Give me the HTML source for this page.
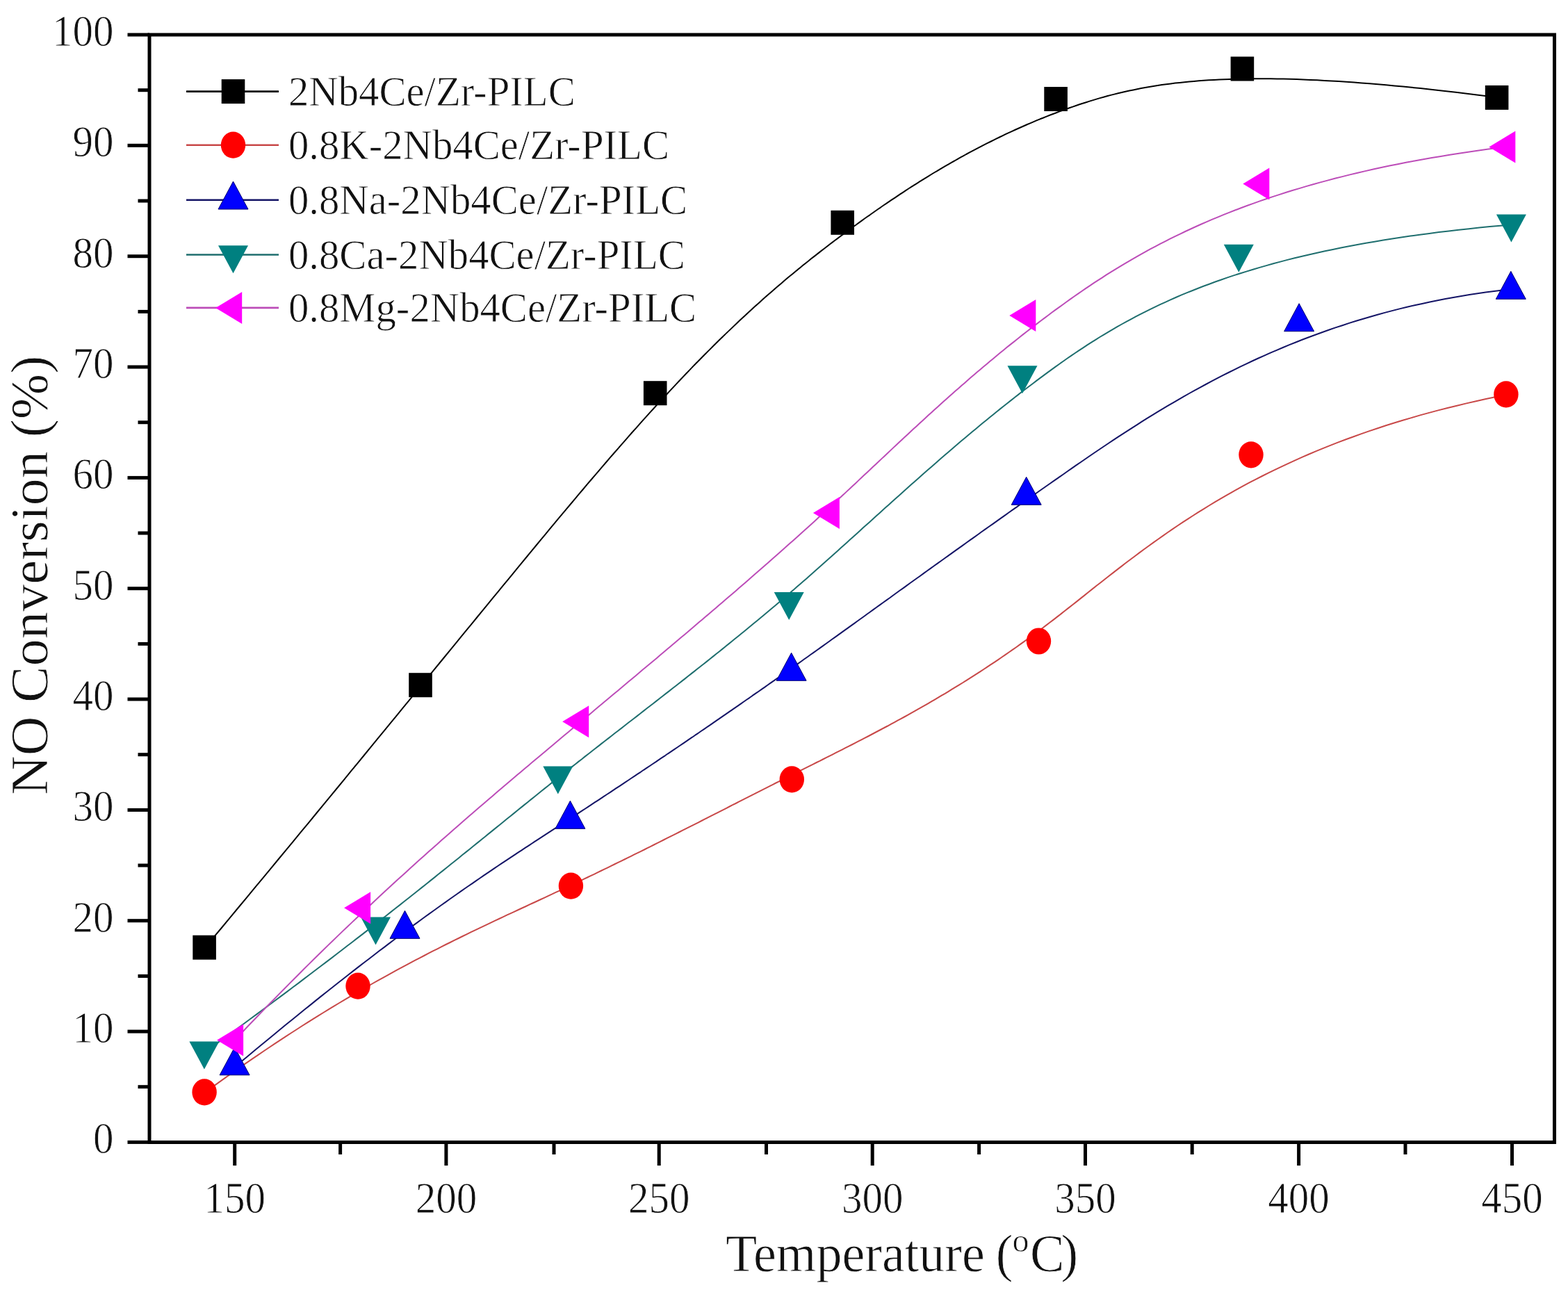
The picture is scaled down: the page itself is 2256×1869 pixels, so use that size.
<!DOCTYPE html><html><head><meta charset="utf-8"><title>NO Conversion vs Temperature</title>
<style>html,body{margin:0;padding:0;background:#fff;}svg{display:block;}text{font-family:"Liberation Serif", "Times New Roman", serif;fill:#111;stroke:#fff;stroke-width:0.8px;}</style></head><body>
<svg width="2256" height="1869" viewBox="0 0 2256 1869">
<rect width="2256" height="1869" fill="#fff"/>
<path d="M294.1 1364.6 L306.5 1349.7 L318.8 1335.0 L330.9 1320.4 L342.8 1306.0 L354.6 1291.8 L366.3 1277.7 L377.8 1263.8 L389.2 1250.1 L400.4 1236.5 L411.5 1223.1 L422.5 1209.8 L433.3 1196.7 L444.0 1183.8 L454.5 1171.0 L464.9 1158.3 L475.2 1145.8 L485.4 1133.5 L495.4 1121.3 L505.3 1109.2 L515.1 1097.3 L524.8 1085.5 L534.3 1073.9 L543.7 1062.4 L553.0 1051.1 L562.2 1039.9 L571.3 1028.8 L580.2 1017.9 L589.1 1007.1 L597.8 996.4 L606.4 985.9 L614.9 975.5 L623.3 965.2 L631.6 955.0 L639.8 945.0 L647.9 935.1 L655.9 925.4 L663.8 915.7 L671.6 906.2 L679.3 896.8 L686.9 887.5 L694.4 878.4 L701.8 869.3 L709.1 860.4 L716.4 851.6 L723.5 842.9 L730.6 834.3 L737.6 825.8 L744.5 817.4 L751.3 809.1 L758.0 801.0 L764.7 792.9 L771.2 785.0 L777.7 777.1 L784.2 769.4 L790.5 761.7 L796.8 754.2 L803.0 746.7 L809.1 739.4 L815.2 732.1 L821.2 725.0 L827.2 717.9 L833.0 710.9 L838.9 704.0 L844.6 697.2 L850.3 690.5 L856.0 683.9 L861.6 677.3 L867.1 670.9 L872.6 664.5 L878.0 658.2 L883.4 652.0 L888.8 645.8 L894.0 639.8 L899.3 633.8 L904.5 627.9 L909.6 622.0 L914.8 616.3 L919.8 610.6 L924.9 604.9 L929.9 599.4 L934.8 593.9 L939.8 588.5 L944.6 583.1 L949.5 577.8 L954.3 572.6 L959.1 567.5 L963.8 562.4 L968.5 557.4 L973.2 552.4 L977.8 547.5 L982.4 542.6 L987.0 537.8 L991.5 533.1 L996.0 528.4 L1000.5 523.8 L1005.0 519.3 L1009.4 514.8 L1013.8 510.3 L1018.2 505.9 L1022.5 501.6 L1026.8 497.3 L1031.1 493.0 L1035.4 488.8 L1039.6 484.7 L1043.8 480.6 L1048.0 476.6 L1052.2 472.6 L1056.4 468.6 L1060.5 464.7 L1064.6 460.8 L1068.7 457.0 L1072.8 453.2 L1076.8 449.5 L1080.9 445.8 L1084.9 442.1 L1088.9 438.5 L1092.9 434.9 L1096.9 431.3 L1100.8 427.8 L1104.8 424.3 L1108.7 420.9 L1112.7 417.5 L1116.6 414.1 L1120.5 410.7 L1124.4 407.4 L1128.3 404.1 L1132.1 400.8 L1136.0 397.6 L1139.9 394.4 L1143.7 391.2 L1147.6 388.1 L1151.4 384.9 L1155.2 381.8 L1159.1 378.7 L1162.9 375.7 L1166.7 372.6 L1170.5 369.6 L1174.4 366.6 L1178.2 363.6 L1182.0 360.6 L1185.8 357.7 L1189.7 354.7 L1193.5 351.8 L1197.3 348.9 L1201.1 346.0 L1205.0 343.1 L1208.8 340.3 L1212.7 337.4 L1216.5 334.5 L1220.4 331.7 L1224.2 328.9 L1228.1 326.0 L1232.0 323.2 L1235.9 320.4 L1239.7 317.6 L1243.6 314.8 L1247.5 312.0 L1251.5 309.3 L1255.4 306.5 L1259.3 303.7 L1263.2 301.0 L1267.2 298.3 L1271.1 295.5 L1275.1 292.8 L1279.1 290.1 L1283.1 287.4 L1287.1 284.8 L1291.1 282.1 L1295.1 279.4 L1299.1 276.8 L1303.1 274.2 L1307.1 271.5 L1311.2 268.9 L1315.2 266.3 L1319.3 263.8 L1323.4 261.2 L1327.5 258.6 L1331.6 256.1 L1335.7 253.6 L1339.8 251.0 L1343.9 248.5 L1348.1 246.1 L1352.2 243.6 L1356.4 241.1 L1360.6 238.7 L1364.7 236.3 L1368.9 233.8 L1373.2 231.5 L1377.4 229.1 L1381.6 226.7 L1385.9 224.4 L1390.1 222.0 L1394.4 219.7 L1398.7 217.4 L1403.0 215.1 L1407.3 212.9 L1411.6 210.6 L1415.9 208.4 L1420.3 206.2 L1424.7 204.0 L1429.0 201.8 L1433.4 199.6 L1437.8 197.5 L1442.3 195.3 L1446.7 193.2 L1451.1 191.1 L1455.6 189.1 L1460.1 187.0 L1464.6 185.0 L1469.1 183.0 L1473.6 181.0 L1478.1 179.0 L1482.7 177.1 L1487.3 175.1 L1491.8 173.2 L1496.4 171.3 L1501.1 169.5 L1505.7 167.6 L1510.3 165.8 L1515.0 164.0 L1519.7 162.2 L1524.4 160.4 L1529.1 158.7 L1533.8 157.0 L1538.6 155.3 L1543.4 153.6 L1548.1 152.0 L1553.0 150.3 L1557.8 148.7 L1562.7 147.2 L1567.6 145.6 L1572.6 144.1 L1577.5 142.6 L1582.6 141.1 L1587.7 139.7 L1592.8 138.3 L1598.0 136.9 L1603.2 135.6 L1608.5 134.3 L1613.9 133.0 L1619.3 131.7 L1624.8 130.5 L1630.4 129.4 L1636.1 128.2 L1641.8 127.1 L1647.6 126.0 L1653.5 125.0 L1659.5 124.0 L1665.5 123.1 L1671.7 122.1 L1678.0 121.3 L1684.3 120.4 L1690.8 119.6 L1697.4 118.9 L1704.1 118.2 L1710.9 117.5 L1717.8 116.9 L1724.8 116.3 L1731.9 115.8 L1739.2 115.3 L1746.6 114.9 L1754.2 114.5 L1761.8 114.2 L1769.6 113.9 L1777.6 113.6 L1785.7 113.4 L1793.9 113.3 L1802.3 113.2 L1810.8 113.2 L1819.5 113.2 L1828.4 113.3 L1837.4 113.4 L1846.6 113.6 L1856.0 113.8 L1865.5 114.1 L1875.2 114.5 L1885.1 114.9 L1895.1 115.3 L1905.4 115.9 L1915.8 116.5 L1926.4 117.1 L1937.2 117.8 L1948.2 118.6 L1959.4 119.4 L1970.8 120.3 L1982.5 121.3 L1994.3 122.3 L2006.3 123.4 L2018.6 124.6 L2031.0 125.8 L2043.7 127.1 L2056.6 128.5 L2069.8 129.9 L2083.2 131.4 L2096.8 133.0 L2110.6 134.7 L2124.7 136.4 L2139.0 138.2 L2153.6 140.0" fill="none" stroke="#000000" stroke-width="2.0" stroke-linejoin="round" stroke-linecap="round"/>
<g>
<rect x="277.3" y="1345.7" width="33.6" height="35.0" fill="#000000"/>
<rect x="588.2" y="968.2" width="33.6" height="35.0" fill="#000000"/>
<rect x="925.9" y="548.2" width="33.6" height="35.0" fill="#000000"/>
<rect x="1195.4" y="302.8" width="33.6" height="35.0" fill="#000000"/>
<rect x="1502.3" y="125.0" width="33.6" height="35.0" fill="#000000"/>
<rect x="1770.6" y="81.5" width="33.6" height="35.0" fill="#000000"/>
<rect x="2136.8" y="122.9" width="33.6" height="35.0" fill="#000000"/>
</g>
<path d="M294.1 1572.4 L302.9 1565.9 L311.7 1559.6 L320.4 1553.4 L329.0 1547.3 L337.5 1541.2 L346.0 1535.3 L354.4 1529.4 L362.8 1523.7 L371.0 1518.1 L379.2 1512.5 L387.4 1507.0 L395.4 1501.6 L403.4 1496.3 L411.4 1491.1 L419.3 1486.0 L427.1 1481.0 L434.8 1476.0 L442.5 1471.1 L450.1 1466.3 L457.7 1461.6 L465.2 1457.0 L472.7 1452.4 L480.1 1447.9 L487.4 1443.5 L494.7 1439.2 L501.9 1434.9 L509.0 1430.7 L516.2 1426.5 L523.2 1422.5 L530.2 1418.5 L537.1 1414.5 L544.0 1410.6 L550.9 1406.8 L557.7 1403.1 L564.4 1399.3 L571.1 1395.7 L577.7 1392.1 L584.3 1388.6 L590.8 1385.1 L597.3 1381.7 L603.8 1378.3 L610.2 1375.0 L616.5 1371.7 L622.8 1368.4 L629.1 1365.3 L635.3 1362.1 L641.4 1359.0 L647.6 1356.0 L653.7 1352.9 L659.7 1350.0 L665.7 1347.0 L671.7 1344.1 L677.6 1341.2 L683.5 1338.4 L689.3 1335.6 L695.1 1332.8 L700.9 1330.1 L706.6 1327.3 L712.3 1324.7 L718.0 1322.0 L723.6 1319.4 L729.2 1316.7 L734.8 1314.1 L740.3 1311.6 L745.8 1309.0 L751.2 1306.5 L756.7 1304.0 L762.1 1301.4 L767.4 1299.0 L772.8 1296.5 L778.1 1294.0 L783.4 1291.6 L788.6 1289.1 L793.9 1286.7 L799.1 1284.2 L804.3 1281.8 L809.4 1279.4 L814.6 1276.9 L819.7 1274.5 L824.7 1272.1 L829.8 1269.7 L834.8 1267.3 L839.9 1264.9 L844.9 1262.5 L849.8 1260.1 L854.8 1257.8 L859.7 1255.4 L864.6 1253.0 L869.5 1250.6 L874.4 1248.3 L879.3 1245.9 L884.1 1243.5 L888.9 1241.2 L893.7 1238.8 L898.5 1236.5 L903.3 1234.1 L908.0 1231.8 L912.7 1229.4 L917.5 1227.1 L922.2 1224.8 L926.9 1222.5 L931.5 1220.1 L936.2 1217.8 L940.8 1215.5 L945.5 1213.2 L950.1 1210.9 L954.7 1208.5 L959.3 1206.2 L963.9 1203.9 L968.5 1201.6 L973.0 1199.3 L977.6 1197.0 L982.2 1194.7 L986.7 1192.4 L991.2 1190.1 L995.7 1187.9 L1000.3 1185.6 L1004.8 1183.3 L1009.3 1181.0 L1013.8 1178.7 L1018.3 1176.4 L1022.7 1174.2 L1027.2 1171.9 L1031.7 1169.6 L1036.2 1167.3 L1040.6 1165.1 L1045.1 1162.8 L1049.5 1160.5 L1054.0 1158.2 L1058.5 1156.0 L1062.9 1153.7 L1067.4 1151.4 L1071.8 1149.2 L1076.3 1146.9 L1080.7 1144.6 L1085.2 1142.4 L1089.6 1140.1 L1094.1 1137.8 L1098.5 1135.6 L1103.0 1133.3 L1107.4 1131.1 L1111.9 1128.8 L1116.4 1126.5 L1120.8 1124.3 L1125.3 1122.0 L1129.8 1119.7 L1134.3 1117.5 L1138.8 1115.2 L1143.3 1112.9 L1147.8 1110.7 L1152.3 1108.4 L1156.8 1106.1 L1161.3 1103.9 L1165.8 1101.6 L1170.4 1099.3 L1174.9 1097.0 L1179.5 1094.8 L1184.0 1092.5 L1188.6 1090.2 L1193.2 1087.9 L1197.8 1085.6 L1202.4 1083.2 L1207.0 1080.9 L1211.6 1078.6 L1216.2 1076.2 L1220.8 1073.9 L1225.5 1071.5 L1230.1 1069.1 L1234.8 1066.7 L1239.4 1064.3 L1244.1 1061.9 L1248.8 1059.5 L1253.5 1057.0 L1258.2 1054.5 L1262.9 1052.0 L1267.7 1049.5 L1272.4 1047.0 L1277.2 1044.5 L1281.9 1041.9 L1286.7 1039.3 L1291.5 1036.7 L1296.3 1034.1 L1301.1 1031.5 L1305.9 1028.8 L1310.7 1026.1 L1315.6 1023.4 L1320.4 1020.7 L1325.3 1017.9 L1330.2 1015.1 L1335.1 1012.3 L1340.0 1009.4 L1344.9 1006.6 L1349.8 1003.7 L1354.8 1000.7 L1359.8 997.8 L1364.7 994.8 L1369.7 991.7 L1374.7 988.7 L1379.7 985.6 L1384.8 982.5 L1389.8 979.3 L1394.9 976.1 L1400.0 972.9 L1405.1 969.6 L1410.2 966.3 L1415.3 963.0 L1420.4 959.6 L1425.6 956.2 L1430.7 952.8 L1435.9 949.3 L1441.1 945.7 L1446.4 942.1 L1451.6 938.5 L1456.8 934.9 L1462.1 931.2 L1467.4 927.4 L1472.7 923.6 L1478.0 919.8 L1483.4 915.9 L1488.7 912.0 L1494.1 908.0 L1499.5 904.0 L1504.9 899.9 L1510.3 895.8 L1515.8 891.6 L1521.2 887.4 L1526.7 883.1 L1532.2 878.8 L1537.8 874.4 L1543.4 870.0 L1549.0 865.6 L1554.6 861.1 L1560.3 856.6 L1566.0 852.0 L1571.8 847.4 L1577.6 842.8 L1583.5 838.2 L1589.5 833.5 L1595.5 828.8 L1601.5 824.1 L1607.6 819.4 L1613.8 814.6 L1620.0 809.8 L1626.4 805.0 L1632.8 800.2 L1639.2 795.4 L1645.8 790.5 L1652.4 785.7 L1659.1 780.9 L1666.0 776.0 L1672.9 771.1 L1679.8 766.3 L1686.9 761.4 L1694.1 756.5 L1701.4 751.7 L1708.8 746.8 L1716.3 742.0 L1723.9 737.1 L1731.7 732.3 L1739.5 727.5 L1747.5 722.7 L1755.6 717.9 L1763.8 713.1 L1772.2 708.4 L1780.6 703.6 L1789.2 698.9 L1798.0 694.2 L1806.9 689.6 L1815.9 685.0 L1825.1 680.4 L1834.4 675.8 L1843.9 671.3 L1853.5 666.8 L1863.3 662.3 L1873.2 657.9 L1883.3 653.5 L1893.6 649.2 L1904.0 644.9 L1914.6 640.6 L1925.4 636.4 L1936.4 632.3 L1947.5 628.2 L1958.8 624.1 L1970.3 620.1 L1982.0 616.2 L1993.9 612.3 L2005.9 608.5 L2018.2 604.8 L2030.7 601.1 L2043.3 597.4 L2056.2 593.9 L2069.3 590.4 L2082.6 587.0 L2096.1 583.7 L2109.8 580.4 L2123.7 577.2 L2137.9 574.1 L2152.3 571.1 L2166.9 568.1" fill="none" stroke="#c84848" stroke-width="2.0" stroke-linejoin="round" stroke-linecap="round"/>
<g>
<ellipse cx="294.1" cy="1571.4" rx="17.7" ry="19.1" fill="#ff0000"/>
<ellipse cx="515.0" cy="1418.7" rx="17.7" ry="19.1" fill="#ff0000"/>
<ellipse cx="821.4" cy="1274.7" rx="17.7" ry="19.1" fill="#ff0000"/>
<ellipse cx="1139.3" cy="1121.4" rx="17.7" ry="19.1" fill="#ff0000"/>
<ellipse cx="1494.5" cy="922.5" rx="17.7" ry="19.1" fill="#ff0000"/>
<ellipse cx="1800.0" cy="654.3" rx="17.7" ry="19.1" fill="#ff0000"/>
<ellipse cx="2166.9" cy="567.4" rx="17.7" ry="19.1" fill="#ff0000"/>
</g>
<path d="M337.6 1535.4 L347.4 1527.2 L357.0 1519.2 L366.5 1511.3 L375.9 1503.5 L385.1 1495.9 L394.2 1488.4 L403.2 1481.0 L412.0 1473.8 L420.8 1466.7 L429.4 1459.7 L437.9 1452.8 L446.3 1446.1 L454.6 1439.4 L462.7 1432.9 L470.8 1426.5 L478.7 1420.2 L486.6 1414.0 L494.3 1408.0 L501.9 1402.0 L509.4 1396.1 L516.8 1390.4 L524.1 1384.7 L531.4 1379.2 L538.5 1373.7 L545.5 1368.3 L552.5 1363.1 L559.3 1357.9 L566.1 1352.8 L572.7 1347.8 L579.3 1342.9 L585.8 1338.0 L592.2 1333.3 L598.6 1328.6 L604.9 1324.0 L611.0 1319.5 L617.1 1315.1 L623.2 1310.7 L629.1 1306.5 L635.0 1302.2 L640.9 1298.1 L646.6 1294.0 L652.3 1290.0 L658.0 1286.0 L663.5 1282.1 L669.0 1278.3 L674.5 1274.5 L679.9 1270.8 L685.2 1267.1 L690.5 1263.5 L695.7 1259.9 L700.9 1256.4 L706.1 1252.9 L711.2 1249.4 L716.2 1246.0 L721.2 1242.7 L726.2 1239.4 L731.1 1236.1 L736.0 1232.8 L740.9 1229.6 L745.7 1226.4 L750.5 1223.3 L755.2 1220.2 L760.0 1217.1 L764.7 1214.0 L769.3 1210.9 L774.0 1207.9 L778.6 1204.9 L783.2 1201.9 L787.8 1198.9 L792.4 1195.9 L797.0 1192.9 L801.5 1190.0 L806.0 1187.0 L810.6 1184.1 L815.1 1181.1 L819.6 1178.2 L824.1 1175.3 L828.6 1172.3 L833.1 1169.4 L837.6 1166.4 L842.1 1163.5 L846.5 1160.6 L851.0 1157.6 L855.4 1154.7 L859.9 1151.8 L864.4 1148.8 L868.8 1145.9 L873.2 1143.0 L877.7 1140.1 L882.1 1137.1 L886.5 1134.2 L890.9 1131.3 L895.4 1128.3 L899.8 1125.4 L904.2 1122.5 L908.6 1119.5 L913.0 1116.6 L917.4 1113.7 L921.8 1110.8 L926.1 1107.8 L930.5 1104.9 L934.9 1102.0 L939.3 1099.0 L943.7 1096.1 L948.0 1093.1 L952.4 1090.2 L956.8 1087.3 L961.1 1084.3 L965.5 1081.4 L969.9 1078.4 L974.2 1075.5 L978.6 1072.5 L982.9 1069.6 L987.3 1066.6 L991.6 1063.6 L996.0 1060.7 L1000.3 1057.7 L1004.7 1054.8 L1009.0 1051.8 L1013.4 1048.8 L1017.7 1045.8 L1022.1 1042.9 L1026.4 1039.9 L1030.7 1036.9 L1035.1 1033.9 L1039.4 1030.9 L1043.8 1027.9 L1048.1 1024.9 L1052.5 1021.9 L1056.8 1018.9 L1061.2 1015.9 L1065.5 1012.9 L1069.9 1009.8 L1074.2 1006.8 L1078.6 1003.8 L1082.9 1000.7 L1087.3 997.7 L1091.6 994.7 L1096.0 991.6 L1100.4 988.6 L1104.7 985.5 L1109.1 982.4 L1113.5 979.4 L1117.8 976.3 L1122.2 973.2 L1126.6 970.1 L1131.0 967.0 L1135.3 963.9 L1139.7 960.8 L1144.1 957.7 L1148.5 954.6 L1152.9 951.5 L1157.3 948.3 L1161.7 945.2 L1166.1 942.0 L1170.6 938.9 L1175.0 935.7 L1179.4 932.6 L1183.9 929.4 L1188.3 926.2 L1192.8 923.0 L1197.2 919.8 L1201.7 916.6 L1206.2 913.4 L1210.7 910.1 L1215.2 906.9 L1219.8 903.6 L1224.3 900.4 L1228.9 897.1 L1233.5 893.8 L1238.0 890.5 L1242.6 887.2 L1247.3 883.8 L1251.9 880.5 L1256.5 877.1 L1261.2 873.8 L1265.9 870.4 L1270.6 867.0 L1275.3 863.6 L1280.1 860.2 L1284.8 856.7 L1289.6 853.3 L1294.4 849.8 L1299.3 846.4 L1304.1 842.9 L1309.0 839.3 L1313.9 835.8 L1318.8 832.3 L1323.8 828.7 L1328.7 825.1 L1333.7 821.5 L1338.8 817.9 L1343.8 814.3 L1348.9 810.6 L1354.0 807.0 L1359.2 803.3 L1364.3 799.6 L1369.5 795.9 L1374.7 792.1 L1380.0 788.4 L1385.3 784.6 L1390.6 780.8 L1396.0 776.9 L1401.4 773.1 L1406.8 769.2 L1412.2 765.3 L1417.7 761.4 L1423.2 757.5 L1428.8 753.6 L1434.4 749.6 L1440.0 745.6 L1445.7 741.6 L1451.4 737.5 L1457.2 733.4 L1463.0 729.4 L1468.8 725.2 L1474.7 721.1 L1480.6 716.9 L1486.5 712.7 L1492.5 708.5 L1498.5 704.3 L1504.6 700.0 L1510.7 695.7 L1516.9 691.4 L1523.1 687.1 L1529.4 682.7 L1535.7 678.3 L1542.0 673.9 L1548.4 669.4 L1554.9 665.0 L1561.4 660.5 L1567.9 656.0 L1574.5 651.5 L1581.2 647.0 L1587.9 642.5 L1594.6 638.0 L1601.5 633.4 L1608.3 628.9 L1615.3 624.4 L1622.3 619.8 L1629.3 615.3 L1636.4 610.8 L1643.6 606.2 L1650.8 601.7 L1658.2 597.2 L1665.5 592.7 L1673.0 588.2 L1680.5 583.7 L1688.0 579.3 L1695.7 574.8 L1703.4 570.4 L1711.1 566.0 L1719.0 561.6 L1726.9 557.3 L1734.9 553.0 L1743.0 548.7 L1751.1 544.4 L1759.3 540.2 L1767.6 536.0 L1776.0 531.8 L1784.5 527.7 L1793.0 523.6 L1801.6 519.5 L1810.3 515.5 L1819.1 511.6 L1827.9 507.7 L1836.9 503.8 L1845.9 500.0 L1855.1 496.2 L1864.3 492.5 L1873.6 488.8 L1882.9 485.2 L1892.4 481.7 L1902.0 478.2 L1911.7 474.8 L1921.4 471.4 L1931.3 468.2 L1941.2 464.9 L1951.2 461.8 L1961.4 458.7 L1971.6 455.7 L1982.0 452.8 L1992.4 449.9 L2002.9 447.1 L2013.6 444.4 L2024.3 441.8 L2035.2 439.3 L2046.1 436.9 L2057.2 434.5 L2068.3 432.2 L2079.6 430.1 L2091.0 428.0 L2102.5 426.0 L2114.1 424.1 L2125.8 422.3 L2137.6 420.6 L2149.6 419.0 L2161.6 417.5 L2173.8 416.2" fill="none" stroke="#141466" stroke-width="2.0" stroke-linejoin="round" stroke-linecap="round"/>
<g>
<polygon points="337.6,1506.8 359.1,1546.8 316.1,1546.8" fill="#0000ff" stroke="#000070" stroke-width="1"/>
<polygon points="582.5,1310.3 604.0,1350.3 561.0,1350.3" fill="#0000ff" stroke="#000070" stroke-width="1"/>
<polygon points="820.4,1152.3 841.9,1192.3 798.9,1192.3" fill="#0000ff" stroke="#000070" stroke-width="1"/>
<polygon points="1138.6,939.3 1160.1,979.3 1117.1,979.3" fill="#0000ff" stroke="#000070" stroke-width="1"/>
<polygon points="1476.7,686.3 1498.2,726.3 1455.2,726.3" fill="#0000ff" stroke="#000070" stroke-width="1"/>
<polygon points="1869.1,436.7 1890.6,476.7 1847.6,476.7" fill="#0000ff" stroke="#000070" stroke-width="1"/>
<polygon points="2173.8,390.3 2195.3,430.3 2152.3,430.3" fill="#0000ff" stroke="#000070" stroke-width="1"/>
</g>
<path d="M293.9 1514.5 L303.7 1507.4 L313.4 1500.3 L323.0 1493.3 L332.5 1486.4 L341.9 1479.5 L351.1 1472.8 L360.2 1466.0 L369.2 1459.4 L378.1 1452.8 L386.9 1446.3 L395.6 1439.8 L404.2 1433.4 L412.6 1427.1 L421.0 1420.8 L429.3 1414.6 L437.4 1408.4 L445.5 1402.3 L453.4 1396.3 L461.3 1390.3 L469.1 1384.4 L476.7 1378.6 L484.3 1372.8 L491.8 1367.0 L499.2 1361.3 L506.5 1355.7 L513.7 1350.1 L520.9 1344.6 L528.0 1339.1 L534.9 1333.7 L541.8 1328.3 L548.6 1322.9 L555.4 1317.7 L562.1 1312.4 L568.6 1307.2 L575.2 1302.1 L581.6 1297.0 L588.0 1292.0 L594.3 1287.0 L600.6 1282.0 L606.7 1277.1 L612.9 1272.2 L618.9 1267.4 L624.9 1262.6 L630.8 1257.8 L636.7 1253.1 L642.5 1248.5 L648.3 1243.8 L654.0 1239.2 L659.7 1234.7 L665.3 1230.1 L670.9 1225.6 L676.4 1221.2 L681.8 1216.8 L687.3 1212.4 L692.7 1208.0 L698.0 1203.7 L703.3 1199.4 L708.6 1195.1 L713.8 1190.9 L719.0 1186.7 L724.2 1182.5 L729.3 1178.3 L734.4 1174.2 L739.5 1170.1 L744.5 1166.0 L749.6 1161.9 L754.6 1157.9 L759.5 1153.9 L764.5 1149.9 L769.4 1145.9 L774.3 1142.0 L779.2 1138.0 L784.1 1134.1 L789.0 1130.2 L793.8 1126.4 L798.7 1122.5 L803.5 1118.7 L808.3 1114.8 L813.2 1111.0 L818.0 1107.2 L822.8 1103.4 L827.5 1099.7 L832.3 1095.9 L837.1 1092.2 L841.8 1088.4 L846.6 1084.7 L851.3 1081.0 L856.1 1077.3 L860.8 1073.6 L865.5 1069.9 L870.2 1066.3 L874.9 1062.6 L879.6 1059.0 L884.2 1055.3 L888.9 1051.7 L893.6 1048.1 L898.2 1044.5 L902.9 1040.8 L907.5 1037.2 L912.1 1033.7 L916.8 1030.1 L921.4 1026.5 L926.0 1022.9 L930.6 1019.3 L935.2 1015.7 L939.8 1012.2 L944.4 1008.6 L949.0 1005.0 L953.5 1001.5 L958.1 997.9 L962.7 994.4 L967.2 990.8 L971.8 987.2 L976.3 983.7 L980.9 980.1 L985.4 976.6 L989.9 973.0 L994.5 969.4 L999.0 965.9 L1003.5 962.3 L1008.0 958.7 L1012.5 955.2 L1017.1 951.6 L1021.6 948.0 L1026.1 944.4 L1030.6 940.8 L1035.1 937.2 L1039.6 933.6 L1044.0 930.0 L1048.5 926.4 L1053.0 922.8 L1057.5 919.1 L1062.0 915.5 L1066.5 911.8 L1070.9 908.2 L1075.4 904.5 L1079.9 900.8 L1084.4 897.1 L1088.8 893.4 L1093.3 889.7 L1097.8 886.0 L1102.3 882.2 L1106.7 878.5 L1111.2 874.7 L1115.7 871.0 L1120.1 867.2 L1124.6 863.4 L1129.1 859.5 L1133.5 855.7 L1138.0 851.8 L1142.5 848.0 L1146.9 844.1 L1151.4 840.2 L1155.9 836.3 L1160.4 832.4 L1164.8 828.4 L1169.3 824.5 L1173.8 820.5 L1178.3 816.5 L1182.8 812.5 L1187.3 808.5 L1191.8 804.5 L1196.3 800.5 L1200.8 796.4 L1205.3 792.4 L1209.8 788.3 L1214.4 784.2 L1218.9 780.2 L1223.4 776.1 L1228.0 772.0 L1232.5 767.9 L1237.1 763.8 L1241.6 759.6 L1246.2 755.5 L1250.8 751.4 L1255.4 747.2 L1260.0 743.1 L1264.6 738.9 L1269.2 734.7 L1273.8 730.6 L1278.5 726.4 L1283.1 722.2 L1287.8 718.0 L1292.4 713.9 L1297.1 709.7 L1301.8 705.5 L1306.5 701.3 L1311.2 697.1 L1315.9 692.9 L1320.7 688.7 L1325.4 684.5 L1330.2 680.3 L1335.0 676.1 L1339.8 671.9 L1344.6 667.7 L1349.4 663.5 L1354.2 659.3 L1359.1 655.1 L1363.9 650.9 L1368.8 646.7 L1373.7 642.5 L1378.6 638.3 L1383.6 634.1 L1388.5 630.0 L1393.5 625.8 L1398.5 621.6 L1403.5 617.4 L1408.5 613.3 L1413.5 609.1 L1418.6 605.0 L1423.7 600.8 L1428.7 596.7 L1433.9 592.5 L1439.0 588.4 L1444.2 584.3 L1449.3 580.2 L1454.5 576.1 L1459.7 572.0 L1465.0 567.9 L1470.2 563.8 L1475.5 559.8 L1480.8 555.7 L1486.2 551.7 L1491.5 547.6 L1496.9 543.6 L1502.3 539.6 L1507.7 535.6 L1513.2 531.6 L1518.7 527.6 L1524.2 523.7 L1529.8 519.7 L1535.4 515.8 L1541.1 511.9 L1546.8 508.0 L1552.6 504.1 L1558.4 500.3 L1564.3 496.4 L1570.2 492.6 L1576.3 488.8 L1582.3 485.0 L1588.5 481.3 L1594.7 477.6 L1601.1 473.9 L1607.4 470.2 L1613.9 466.5 L1620.5 462.9 L1627.1 459.3 L1633.9 455.7 L1640.7 452.1 L1647.7 448.6 L1654.7 445.1 L1661.9 441.6 L1669.1 438.2 L1676.5 434.8 L1684.0 431.4 L1691.6 428.0 L1699.3 424.7 L1707.2 421.4 L1715.2 418.2 L1723.3 415.0 L1731.5 411.8 L1739.9 408.7 L1748.4 405.5 L1757.1 402.5 L1765.9 399.4 L1774.9 396.4 L1784.0 393.5 L1793.3 390.6 L1802.7 387.7 L1812.3 384.9 L1822.0 382.1 L1832.0 379.3 L1842.0 376.6 L1852.3 373.9 L1862.7 371.3 L1873.4 368.7 L1884.2 366.2 L1895.2 363.7 L1906.3 361.3 L1917.7 358.9 L1929.3 356.5 L1941.0 354.2 L1953.0 352.0 L1965.2 349.8 L1977.6 347.7 L1990.2 345.6 L2003.0 343.5 L2016.0 341.5 L2029.2 339.6 L2042.7 337.7 L2056.4 335.9 L2070.3 334.1 L2084.4 332.4 L2098.8 330.8 L2113.5 329.2 L2128.3 327.6 L2143.4 326.1 L2158.8 324.7 L2174.4 323.3" fill="none" stroke="#1e6e6e" stroke-width="2.0" stroke-linejoin="round" stroke-linecap="round"/>
<g>
<polygon points="293.9,1538.4 315.4,1498.4 272.4,1498.4" fill="#008080"/>
<polygon points="540.5,1359.4 562.0,1319.4 519.0,1319.4" fill="#008080"/>
<polygon points="802.8,1142.6 824.3,1102.6 781.3,1102.6" fill="#008080"/>
<polygon points="1135.2,892.1 1156.7,852.1 1113.7,852.1" fill="#008080"/>
<polygon points="1471.0,566.3 1492.5,526.3 1449.5,526.3" fill="#008080"/>
<polygon points="1782.3,391.8 1803.8,351.8 1760.8,351.8" fill="#008080"/>
<polygon points="2174.4,348.5 2195.9,308.5 2152.9,308.5" fill="#008080"/>
</g>
<path d="M337.4 1496.9 L344.7 1489.2 L352.0 1481.5 L359.3 1473.8 L366.6 1466.3 L373.8 1458.8 L381.0 1451.3 L388.1 1444.0 L395.3 1436.7 L402.4 1429.4 L409.5 1422.2 L416.5 1415.1 L423.6 1408.0 L430.6 1401.0 L437.5 1394.0 L444.5 1387.1 L451.4 1380.3 L458.3 1373.5 L465.2 1366.8 L472.0 1360.1 L478.9 1353.5 L485.7 1346.9 L492.4 1340.4 L499.2 1334.0 L505.9 1327.6 L512.6 1321.2 L519.3 1314.9 L525.9 1308.6 L532.5 1302.4 L539.1 1296.3 L545.7 1290.1 L552.2 1284.1 L558.7 1278.0 L565.2 1272.1 L571.7 1266.1 L578.2 1260.3 L584.6 1254.4 L591.0 1248.6 L597.4 1242.8 L603.7 1237.1 L610.0 1231.5 L616.3 1225.8 L622.6 1220.2 L628.9 1214.7 L635.1 1209.1 L641.3 1203.7 L647.5 1198.2 L653.7 1192.8 L659.8 1187.4 L666.0 1182.1 L672.0 1176.8 L678.1 1171.5 L684.2 1166.3 L690.2 1161.1 L696.2 1155.9 L702.2 1150.8 L708.2 1145.7 L714.1 1140.6 L720.0 1135.5 L725.9 1130.5 L731.8 1125.5 L737.7 1120.5 L743.5 1115.6 L749.3 1110.7 L755.1 1105.8 L760.9 1100.9 L766.6 1096.1 L772.4 1091.3 L778.1 1086.5 L783.8 1081.7 L789.4 1076.9 L795.1 1072.2 L800.7 1067.5 L806.3 1062.8 L811.9 1058.1 L817.5 1053.5 L823.0 1048.8 L828.6 1044.2 L834.1 1039.6 L839.6 1035.0 L845.0 1030.4 L850.5 1025.9 L855.9 1021.3 L861.3 1016.8 L866.7 1012.3 L872.1 1007.8 L877.5 1003.3 L882.8 998.8 L888.1 994.4 L893.4 990.0 L898.7 985.5 L904.0 981.1 L909.2 976.7 L914.4 972.4 L919.6 968.0 L924.8 963.6 L930.0 959.3 L935.1 955.0 L940.3 950.7 L945.4 946.4 L950.5 942.1 L955.6 937.8 L960.6 933.5 L965.7 929.3 L970.7 925.0 L975.7 920.8 L980.7 916.6 L985.7 912.4 L990.6 908.2 L995.6 904.0 L1000.5 899.8 L1005.4 895.6 L1010.3 891.5 L1015.2 887.3 L1020.0 883.2 L1024.9 879.1 L1029.7 874.9 L1034.5 870.8 L1039.3 866.7 L1044.1 862.6 L1048.8 858.5 L1053.6 854.5 L1058.3 850.4 L1063.0 846.3 L1067.7 842.3 L1072.4 838.2 L1077.0 834.2 L1081.7 830.1 L1086.3 826.1 L1090.9 822.1 L1095.5 818.1 L1100.1 814.1 L1104.7 810.1 L1109.2 806.0 L1113.7 802.1 L1118.3 798.1 L1122.8 794.1 L1127.3 790.1 L1131.7 786.1 L1136.2 782.1 L1140.6 778.2 L1145.1 774.2 L1149.5 770.2 L1153.9 766.3 L1158.3 762.3 L1162.6 758.4 L1167.0 754.4 L1171.4 750.5 L1175.7 746.5 L1180.0 742.6 L1184.3 738.6 L1188.6 734.7 L1192.9 730.8 L1197.1 726.8 L1201.4 722.9 L1205.6 718.9 L1209.8 715.0 L1214.1 711.1 L1218.3 707.1 L1222.5 703.2 L1226.7 699.3 L1230.9 695.4 L1235.1 691.4 L1239.2 687.5 L1243.4 683.6 L1247.6 679.7 L1251.8 675.8 L1255.9 671.8 L1260.1 667.9 L1264.3 664.0 L1268.4 660.1 L1272.6 656.2 L1276.8 652.3 L1280.9 648.4 L1285.1 644.4 L1289.3 640.5 L1293.5 636.6 L1297.6 632.7 L1301.8 628.8 L1306.0 624.9 L1310.2 621.0 L1314.4 617.1 L1318.7 613.2 L1322.9 609.3 L1327.1 605.4 L1331.4 601.5 L1335.6 597.6 L1339.9 593.7 L1344.2 589.8 L1348.5 585.9 L1352.8 582.0 L1357.2 578.1 L1361.5 574.2 L1365.9 570.3 L1370.2 566.4 L1374.6 562.5 L1379.1 558.7 L1383.5 554.8 L1388.0 550.9 L1392.4 547.0 L1396.9 543.1 L1401.4 539.2 L1406.0 535.3 L1410.6 531.4 L1415.2 527.5 L1419.8 523.7 L1424.4 519.8 L1429.1 515.9 L1433.8 512.0 L1438.5 508.1 L1443.3 504.2 L1448.0 500.3 L1452.9 496.4 L1457.7 492.6 L1462.6 488.7 L1467.5 484.8 L1472.4 480.9 L1477.4 477.0 L1482.4 473.1 L1487.4 469.3 L1492.5 465.4 L1497.6 461.5 L1502.8 457.6 L1508.0 453.7 L1513.2 449.8 L1518.5 445.9 L1523.8 442.1 L1529.2 438.2 L1534.6 434.3 L1540.0 430.4 L1545.5 426.5 L1551.1 422.7 L1556.7 418.8 L1562.3 414.9 L1568.0 411.1 L1573.8 407.2 L1579.7 403.4 L1585.6 399.6 L1591.5 395.7 L1597.6 391.9 L1603.7 388.1 L1609.9 384.4 L1616.1 380.6 L1622.5 376.8 L1628.9 373.1 L1635.4 369.3 L1642.0 365.6 L1648.7 361.9 L1655.4 358.2 L1662.3 354.6 L1669.2 350.9 L1676.3 347.3 L1683.4 343.7 L1690.6 340.1 L1698.0 336.6 L1705.4 333.0 L1713.0 329.5 L1720.6 326.0 L1728.4 322.5 L1736.2 319.1 L1744.2 315.7 L1752.3 312.3 L1760.6 308.9 L1768.9 305.6 L1777.4 302.3 L1786.0 299.0 L1794.7 295.8 L1803.5 292.6 L1812.5 289.4 L1821.6 286.3 L1830.9 283.1 L1840.3 280.1 L1849.8 277.0 L1859.4 274.0 L1869.3 271.1 L1879.2 268.1 L1889.3 265.2 L1899.6 262.4 L1910.0 259.6 L1920.5 256.8 L1931.3 254.1 L1942.1 251.4 L1953.2 248.7 L1964.4 246.1 L1975.8 243.6 L1987.3 241.1 L1999.0 238.6 L2010.9 236.2 L2022.9 233.8 L2035.2 231.5 L2047.6 229.3 L2060.1 227.0 L2072.9 224.9 L2085.9 222.7 L2099.0 220.7 L2112.3 218.7 L2125.9 216.7 L2139.6 214.8 L2153.5 213.0 L2167.6 211.2" fill="none" stroke="#bc4cb8" stroke-width="2.0" stroke-linejoin="round" stroke-linecap="round"/>
<g>
<polygon points="312.1,1496.5 350.1,1473.5 350.1,1519.5" fill="#ff00ff"/>
<polygon points="495.1,1306.3 533.1,1283.3 533.1,1329.3" fill="#ff00ff"/>
<polygon points="809.2,1038.3 847.2,1015.3 847.2,1061.3" fill="#ff00ff"/>
<polygon points="1169.9,738.0 1207.9,715.0 1207.9,761.0" fill="#ff00ff"/>
<polygon points="1452.3,454.0 1490.3,431.0 1490.3,477.0" fill="#ff00ff"/>
<polygon points="1788.3,264.5 1826.3,241.5 1826.3,287.5" fill="#ff00ff"/>
<polygon points="2142.3,211.5 2180.3,188.5 2180.3,234.5" fill="#ff00ff"/>
</g>
<g stroke="#000" stroke-width="5.0" fill="none" stroke-linecap="square">
<path d="M215.0 50.0 H2236.5 V1643.4 H215.0 Z"/>
<line x1="183.5" y1="1643.4" x2="215.0" y2="1643.4" stroke-linecap="butt"/>
<line x1="198.5" y1="1563.7" x2="215.0" y2="1563.7" stroke-linecap="butt"/>
<line x1="183.5" y1="1484.1" x2="215.0" y2="1484.1" stroke-linecap="butt"/>
<line x1="198.5" y1="1404.4" x2="215.0" y2="1404.4" stroke-linecap="butt"/>
<line x1="183.5" y1="1324.7" x2="215.0" y2="1324.7" stroke-linecap="butt"/>
<line x1="198.5" y1="1245.1" x2="215.0" y2="1245.1" stroke-linecap="butt"/>
<line x1="183.5" y1="1165.4" x2="215.0" y2="1165.4" stroke-linecap="butt"/>
<line x1="198.5" y1="1085.7" x2="215.0" y2="1085.7" stroke-linecap="butt"/>
<line x1="183.5" y1="1006.0" x2="215.0" y2="1006.0" stroke-linecap="butt"/>
<line x1="198.5" y1="926.4" x2="215.0" y2="926.4" stroke-linecap="butt"/>
<line x1="183.5" y1="846.7" x2="215.0" y2="846.7" stroke-linecap="butt"/>
<line x1="198.5" y1="767.0" x2="215.0" y2="767.0" stroke-linecap="butt"/>
<line x1="183.5" y1="687.4" x2="215.0" y2="687.4" stroke-linecap="butt"/>
<line x1="198.5" y1="607.7" x2="215.0" y2="607.7" stroke-linecap="butt"/>
<line x1="183.5" y1="528.0" x2="215.0" y2="528.0" stroke-linecap="butt"/>
<line x1="198.5" y1="448.4" x2="215.0" y2="448.4" stroke-linecap="butt"/>
<line x1="183.5" y1="368.7" x2="215.0" y2="368.7" stroke-linecap="butt"/>
<line x1="198.5" y1="289.0" x2="215.0" y2="289.0" stroke-linecap="butt"/>
<line x1="183.5" y1="209.3" x2="215.0" y2="209.3" stroke-linecap="butt"/>
<line x1="198.5" y1="129.7" x2="215.0" y2="129.7" stroke-linecap="butt"/>
<line x1="183.5" y1="50.0" x2="215.0" y2="50.0" stroke-linecap="butt"/>
<line x1="337.7" y1="1643.4" x2="337.7" y2="1677.0" stroke-linecap="butt"/>
<line x1="489.6" y1="1643.4" x2="489.6" y2="1661.0" stroke-linecap="butt"/>
<line x1="641.9" y1="1643.4" x2="641.9" y2="1677.0" stroke-linecap="butt"/>
<line x1="797.0" y1="1643.4" x2="797.0" y2="1661.0" stroke-linecap="butt"/>
<line x1="948.2" y1="1643.4" x2="948.2" y2="1677.0" stroke-linecap="butt"/>
<line x1="1102.5" y1="1643.4" x2="1102.5" y2="1661.0" stroke-linecap="butt"/>
<line x1="1255.2" y1="1643.4" x2="1255.2" y2="1677.0" stroke-linecap="butt"/>
<line x1="1408.6" y1="1643.4" x2="1408.6" y2="1661.0" stroke-linecap="butt"/>
<line x1="1561.5" y1="1643.4" x2="1561.5" y2="1677.0" stroke-linecap="butt"/>
<line x1="1715.2" y1="1643.4" x2="1715.2" y2="1661.0" stroke-linecap="butt"/>
<line x1="1868.6" y1="1643.4" x2="1868.6" y2="1677.0" stroke-linecap="butt"/>
<line x1="2022.0" y1="1643.4" x2="2022.0" y2="1661.0" stroke-linecap="butt"/>
<line x1="2175.5" y1="1643.4" x2="2175.5" y2="1677.0" stroke-linecap="butt"/>
</g>
<text transform="translate(163.5 1659.4) scale(1 1.060)" font-size="59" text-anchor="end">0</text>
<text transform="translate(163.5 1500.1) scale(1 1.060)" font-size="59" text-anchor="end">10</text>
<text transform="translate(163.5 1340.7) scale(1 1.060)" font-size="59" text-anchor="end">20</text>
<text transform="translate(163.5 1181.4) scale(1 1.060)" font-size="59" text-anchor="end">30</text>
<text transform="translate(163.5 1022.0) scale(1 1.060)" font-size="59" text-anchor="end">40</text>
<text transform="translate(163.5 862.7) scale(1 1.060)" font-size="59" text-anchor="end">50</text>
<text transform="translate(163.5 703.4) scale(1 1.060)" font-size="59" text-anchor="end">60</text>
<text transform="translate(163.5 544.0) scale(1 1.060)" font-size="59" text-anchor="end">70</text>
<text transform="translate(163.5 384.7) scale(1 1.060)" font-size="59" text-anchor="end">80</text>
<text transform="translate(163.5 225.3) scale(1 1.060)" font-size="59" text-anchor="end">90</text>
<text transform="translate(163.5 66.0) scale(1 1.060)" font-size="59" text-anchor="end">100</text>
<text transform="translate(337.7 1745) scale(1 1.060)" font-size="59" text-anchor="middle">150</text>
<text transform="translate(641.9 1745) scale(1 1.060)" font-size="59" text-anchor="middle">200</text>
<text transform="translate(948.2 1745) scale(1 1.060)" font-size="59" text-anchor="middle">250</text>
<text transform="translate(1255.2 1745) scale(1 1.060)" font-size="59" text-anchor="middle">300</text>
<text transform="translate(1561.5 1745) scale(1 1.060)" font-size="59" text-anchor="middle">350</text>
<text transform="translate(1868.6 1745) scale(1 1.060)" font-size="59" text-anchor="middle">400</text>
<text transform="translate(2175.5 1745) scale(1 1.060)" font-size="59" text-anchor="middle">450</text>
<text transform="translate(0 1829.3) scale(1 1.03)" font-size="74"><tspan x="1044">Temperature</tspan><tspan x="1432.8">(</tspan><tspan x="1456.5" y="-27.6" font-size="48">o</tspan><tspan x="1482" y="0">C</tspan><tspan x="1526.5">)</tspan></text>
<text transform="translate(68 1144) rotate(-90) scale(1.04 1)" font-size="75.5">NO Conversion (%)</text>
<line x1="268" y1="131.6" x2="401" y2="131.6" stroke="#000000" stroke-width="2.6"/>
<rect x="318.7" y="114.1" width="33.6" height="35.0" fill="#000000"/>
<text transform="translate(415 152.0) scale(1 1.045)" font-size="58.7">2Nb4Ce/Zr-PILC</text>
<line x1="268" y1="208.7" x2="401" y2="208.7" stroke="#c84848" stroke-width="2.6"/>
<ellipse cx="335.5" cy="208.7" rx="17.7" ry="19.1" fill="#ff0000"/>
<text transform="translate(415 229.1) scale(1 1.045)" font-size="58.7">0.8K-2Nb4Ce/Zr-PILC</text>
<line x1="268" y1="287.7" x2="401" y2="287.7" stroke="#141466" stroke-width="2.6"/>
<polygon points="335.5,261.0 357.0,301.0 314.0,301.0" fill="#0000ff" stroke="#000070" stroke-width="1"/>
<text transform="translate(415 308.1) scale(1 1.045)" font-size="58.7">0.8Na-2Nb4Ce/Zr-PILC</text>
<line x1="268" y1="366.5" x2="401" y2="366.5" stroke="#1e6e6e" stroke-width="2.6"/>
<polygon points="335.5,393.2 357.0,353.2 314.0,353.2" fill="#008080"/>
<text transform="translate(415 386.9) scale(1 1.045)" font-size="58.7">0.8Ca-2Nb4Ce/Zr-PILC</text>
<line x1="268" y1="442.9" x2="401" y2="442.9" stroke="#bc4cb8" stroke-width="2.6"/>
<polygon points="310.2,442.9 348.2,419.9 348.2,465.9" fill="#ff00ff"/>
<text transform="translate(415 463.3) scale(1 1.045)" font-size="58.7">0.8Mg-2Nb4Ce/Zr-PILC</text>
</svg></body></html>
